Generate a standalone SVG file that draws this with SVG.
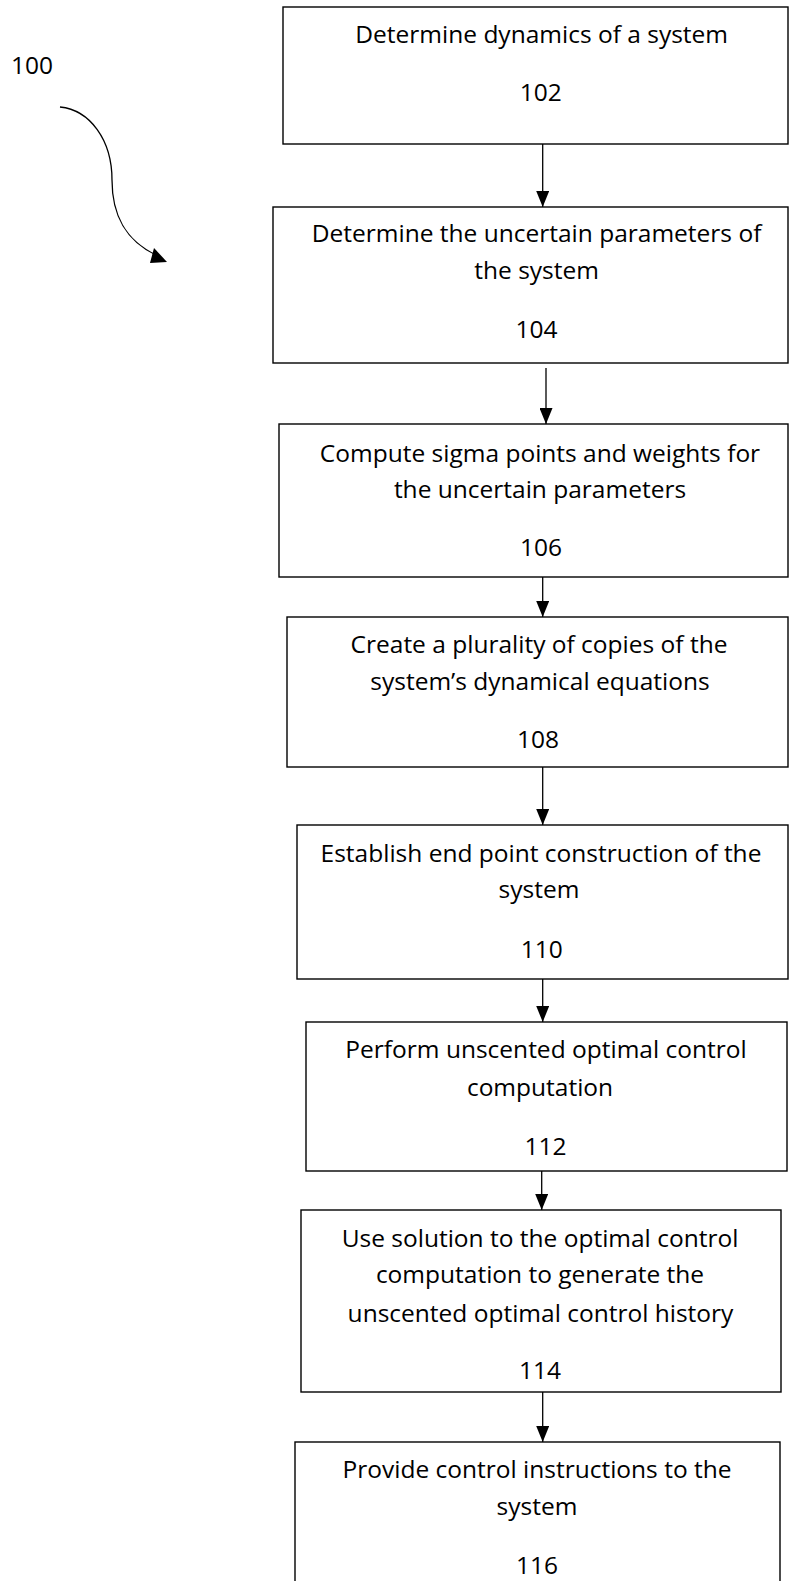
<svg xmlns="http://www.w3.org/2000/svg" width="789" height="1581" viewBox="0 0 789 1581">
<style>
.box{fill:#fff;stroke:#000;stroke-width:1.4}
.t{font-family:"Open Sans","Liberation Sans",sans-serif;font-size:24.5px;fill:#000;text-anchor:middle}
.c{stroke:#000;stroke-width:1.3;fill:none}
</style>
<defs>
<marker id="ah" viewBox="0 0 16 13" markerWidth="16" markerHeight="13" refX="16" refY="6.5" orient="auto" markerUnits="userSpaceOnUse">
<path d="M0,0 L16,6.5 L0,13 z" fill="#000"/>
</marker>
</defs>
<rect width="789" height="1581" fill="#fff"/>
<g id="label100">
<text class="t" x="32" y="74">100</text>
<path class="c" d="M60,107 C90,110 112,140 112,180 C112,215 125,240 156,255"/>
<path d="M167,262 L154,248 L150,263 z" fill="#000"/>
</g>
<g id="connectors">
<line class="c" x1="542.7" y1="144" x2="542.7" y2="207" marker-end="url(#ah)"/>
<line class="c" x1="546" y1="368" x2="546" y2="424" marker-end="url(#ah)"/>
<line class="c" x1="542.7" y1="577" x2="542.7" y2="617" marker-end="url(#ah)"/>
<line class="c" x1="542.7" y1="767" x2="542.7" y2="825" marker-end="url(#ah)"/>
<line class="c" x1="542.7" y1="979" x2="542.7" y2="1022" marker-end="url(#ah)"/>
<line class="c" x1="541.7" y1="1171" x2="541.7" y2="1210" marker-end="url(#ah)"/>
<line class="c" x1="542.7" y1="1392" x2="542.7" y2="1442" marker-end="url(#ah)"/>
</g>
<g id="n102">
<rect class="box" x="283" y="7" width="505" height="137"/>
<text class="t" x="541.7" y="43">Determine dynamics of a system</text>
<text class="t" x="540.7" y="101">102</text>
</g>
<g id="n104">
<rect class="box" x="273" y="207" width="515" height="156"/>
<text class="t" x="536.6" y="242">Determine the uncertain parameters of</text>
<text class="t" x="536.6" y="279">the system</text>
<text class="t" x="536.6" y="338">104</text>
</g>
<g id="n106">
<rect class="box" x="279" y="424" width="509" height="153"/>
<text class="t" x="540" y="462">Compute sigma points and weights for</text>
<text class="t" x="540" y="498">the uncertain parameters</text>
<text class="t" x="541" y="556">106</text>
</g>
<g id="n108">
<rect class="box" x="287" y="617" width="501" height="150"/>
<text class="t" x="539" y="653">Create a plurality of copies of the</text>
<text class="t" x="540" y="690">system’s dynamical equations</text>
<text class="t" x="538" y="748">108</text>
</g>
<g id="n110">
<rect class="box" x="297" y="825" width="491" height="154"/>
<text class="t" x="541" y="862">Establish end point construction of the</text>
<text class="t" x="539" y="898">system</text>
<text class="t" x="541.7" y="958">110</text>
</g>
<g id="n112">
<rect class="box" x="306" y="1022" width="481" height="149"/>
<text class="t" x="546" y="1058">Perform unscented optimal control</text>
<text class="t" x="540" y="1096">computation</text>
<text class="t" x="545.5" y="1155">112</text>
</g>
<g id="n114">
<rect class="box" x="301" y="1210" width="480" height="182"/>
<text class="t" x="540" y="1247">Use solution to the optimal control</text>
<text class="t" x="540" y="1283">computation to generate the</text>
<text class="t" x="540.5" y="1322">unscented optimal control history</text>
<text class="t" x="540" y="1379">114</text>
</g>
<g id="n116">
<rect class="box" x="295" y="1442" width="485" height="160"/>
<text class="t" x="537" y="1478">Provide control instructions to the</text>
<text class="t" x="537" y="1515">system</text>
<text class="t" x="537" y="1574">116</text>
</g>
</svg>
